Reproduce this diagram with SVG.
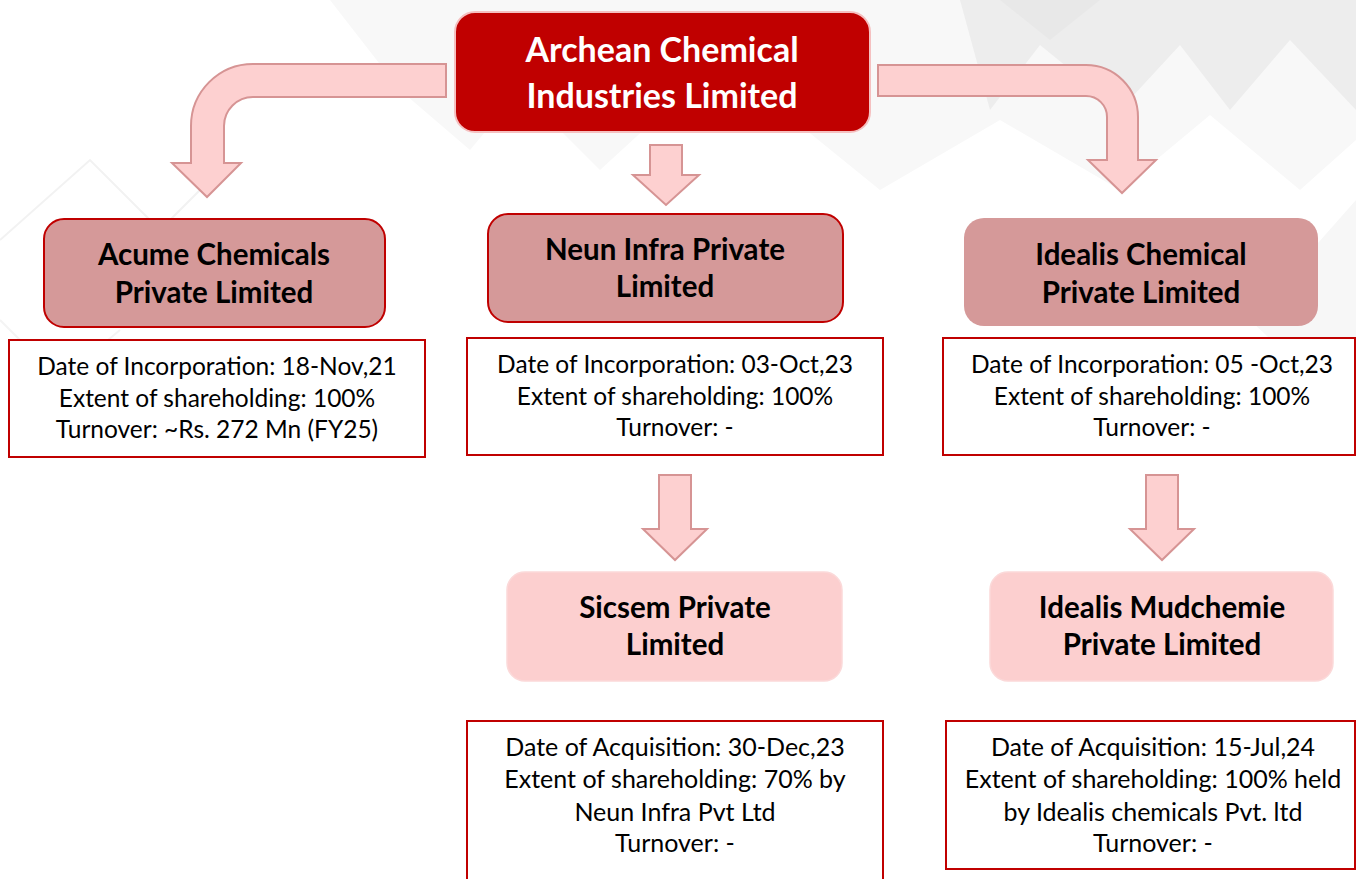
<svg xmlns="http://www.w3.org/2000/svg" width="1356" height="879" viewBox="0 0 1356 879">
  <style>
    .arrow { fill: #fdd0d0; stroke: #d69494; stroke-width: 2; stroke-linejoin: miter; }
    .top { fill: #c00000; stroke: #f5c0c0; stroke-width: 2; }
    .l1 { fill: #d59999; stroke: #c00000; stroke-width: 2; }
    .l1b { fill: #d59999; }
    .l2 { fill: #fccfcf; stroke: #fbd9d9; stroke-width: 1.5; }
    .info { fill: #ffffff; stroke: #c00000; stroke-width: 2; }
    .t-top { font-family: Lato, "Liberation Sans", sans-serif; font-weight: 700; font-size: 34px; fill: #ffffff; text-anchor: middle; }
    .t-node { font-family: Lato, "Liberation Sans", sans-serif; font-weight: 700; font-size: 29.5px; fill: #000000; text-anchor: middle; }
    .t-info { font-family: Lato, "Liberation Sans", sans-serif; font-size: 24.5px; fill: #000000; text-anchor: middle; }
    .t-info2 { font-family: Lato, "Liberation Sans", sans-serif; font-size: 25px; fill: #000000; text-anchor: middle; }
  </style>
  <rect width="1356" height="879" fill="#ffffff"/>
  <g id="background">
    <polygon points="330,0 1356,0 1356,140 1300,190 1210,115 1120,190 1000,120 880,190 720,60 600,170 520,90 470,150 400,90" fill="#f8f8f8"/>
    <polygon points="960,0 1356,0 1356,110 1290,40 1230,110 1180,45 1120,110 1040,45 990,110" fill="#ededed"/>
    <polygon points="1000,0 1100,0 1050,40" fill="#e8e8e8"/>
    <polygon points="1356,200 1356,420 1250,320" fill="#f7f7f7"/>
    <polyline points="0,240 90,160 160,230 220,170" fill="none" stroke="#f2f2f2" stroke-width="2"/>
    <polyline points="0,320 60,380 120,330" fill="none" stroke="#f4f4f4" stroke-width="2"/>
  </g>
  <g id="connectors">
    <path class="arrow" d="M446,64 L253,64 A62,62 0 0 0 191,126 L191,163 L172,163 L207,197 L241,163 L224,163 L224,126 A29,29 0 0 1 253,97 L446,97 Z"/>
    <path class="arrow" d="M878,65 L1086,65 A52,52 0 0 1 1138,117 L1138,160 L1156,160 L1122,193 L1088,160 L1107,160 L1107,117 A21,21 0 0 0 1086,96 L878,96 Z"/>
    <path class="arrow" d="M650,145 L682,145 L682,175 L699,175 L666,205 L633,175 L650,175 Z"/>
    <path class="arrow" d="M659,475 L691,475 L691,529 L707,529 L675,560 L643,529 L659,529 Z"/>
    <path class="arrow" d="M1146,475 L1178,475 L1178,529 L1194,529 L1162,560 L1130,529 L1146,529 Z"/>
  </g>
  <g id="node-archean">
    <rect class="top" x="455" y="12" width="415" height="120" rx="20"/>
    <text class="t-top" x="662" y="62">Archean Chemical</text>
    <text class="t-top" x="662" y="108">Industries Limited</text>
  </g>
  <g id="node-acume">
    <rect class="l1" x="44" y="219" width="341" height="108" rx="20"/>
    <text class="t-node" x="214" y="265">Acume Chemicals</text>
    <text class="t-node" x="214" y="303">Private Limited</text>
  </g>
  <g id="info-acume">
    <rect class="info" x="9" y="340" width="416" height="117"/>
    <text class="t-info" x="217" y="375">Date of Incorporation: 18-Nov,21</text>
    <text class="t-info" x="217" y="407">Extent of shareholding: 100%</text>
    <text class="t-info" x="217" y="438">Turnover: ~Rs. 272 Mn (FY25)</text>
  </g>
  <g id="node-neun">
    <rect class="l1" x="488" y="214" width="355" height="108" rx="20"/>
    <text class="t-node" x="665" y="260">Neun Infra Private</text>
    <text class="t-node" x="665" y="297">Limited</text>
  </g>
  <g id="info-neun">
    <rect class="info" x="467" y="338" width="416" height="117"/>
    <text class="t-info" x="675" y="373">Date of Incorporation: 03-Oct,23</text>
    <text class="t-info" x="675" y="405">Extent of shareholding: 100%</text>
    <text class="t-info" x="675" y="436">Turnover: -</text>
  </g>
  <g id="node-idealis">
    <rect class="l1b" x="964" y="218" width="354" height="108" rx="20"/>
    <text class="t-node" x="1141" y="265">Idealis Chemical</text>
    <text class="t-node" x="1141" y="303">Private Limited</text>
  </g>
  <g id="info-idealis">
    <rect class="info" x="943" y="338" width="412" height="117"/>
    <text class="t-info" x="1152" y="373">Date of Incorporation: 05 -Oct,23</text>
    <text class="t-info" x="1152" y="405">Extent of shareholding: 100%</text>
    <text class="t-info" x="1152" y="436">Turnover: -</text>
  </g>
  <g id="node-sicsem">
    <rect class="l2" x="507" y="572" width="335" height="109" rx="18"/>
    <text class="t-node" x="675" y="618">Sicsem Private</text>
    <text class="t-node" x="675" y="655">Limited</text>
  </g>
  <g id="info-sicsem">
    <rect class="info" x="467" y="721" width="416" height="170"/>
    <text class="t-info2" x="675" y="756">Date of Acquisition: 30-Dec,23</text>
    <text class="t-info2" x="675" y="788">Extent of shareholding: 70% by</text>
    <text class="t-info2" x="675" y="821">Neun Infra Pvt Ltd</text>
    <text class="t-info2" x="675" y="852">Turnover: -</text>
  </g>
  <g id="node-mudchemie">
    <rect class="l2" x="990" y="572" width="343" height="109" rx="18"/>
    <text class="t-node" x="1162" y="618">Idealis Mudchemie</text>
    <text class="t-node" x="1162" y="655">Private Limited</text>
  </g>
  <g id="info-mudchemie">
    <rect class="info" x="946" y="721" width="409" height="148"/>
    <text class="t-info2" x="1153" y="756">Date of Acquisition: 15-Jul,24</text>
    <text class="t-info2" x="1153" y="788">Extent of shareholding: 100% held</text>
    <text class="t-info2" x="1153" y="821">by Idealis chemicals Pvt. ltd</text>
    <text class="t-info2" x="1153" y="852">Turnover: -</text>
  </g>
</svg>
